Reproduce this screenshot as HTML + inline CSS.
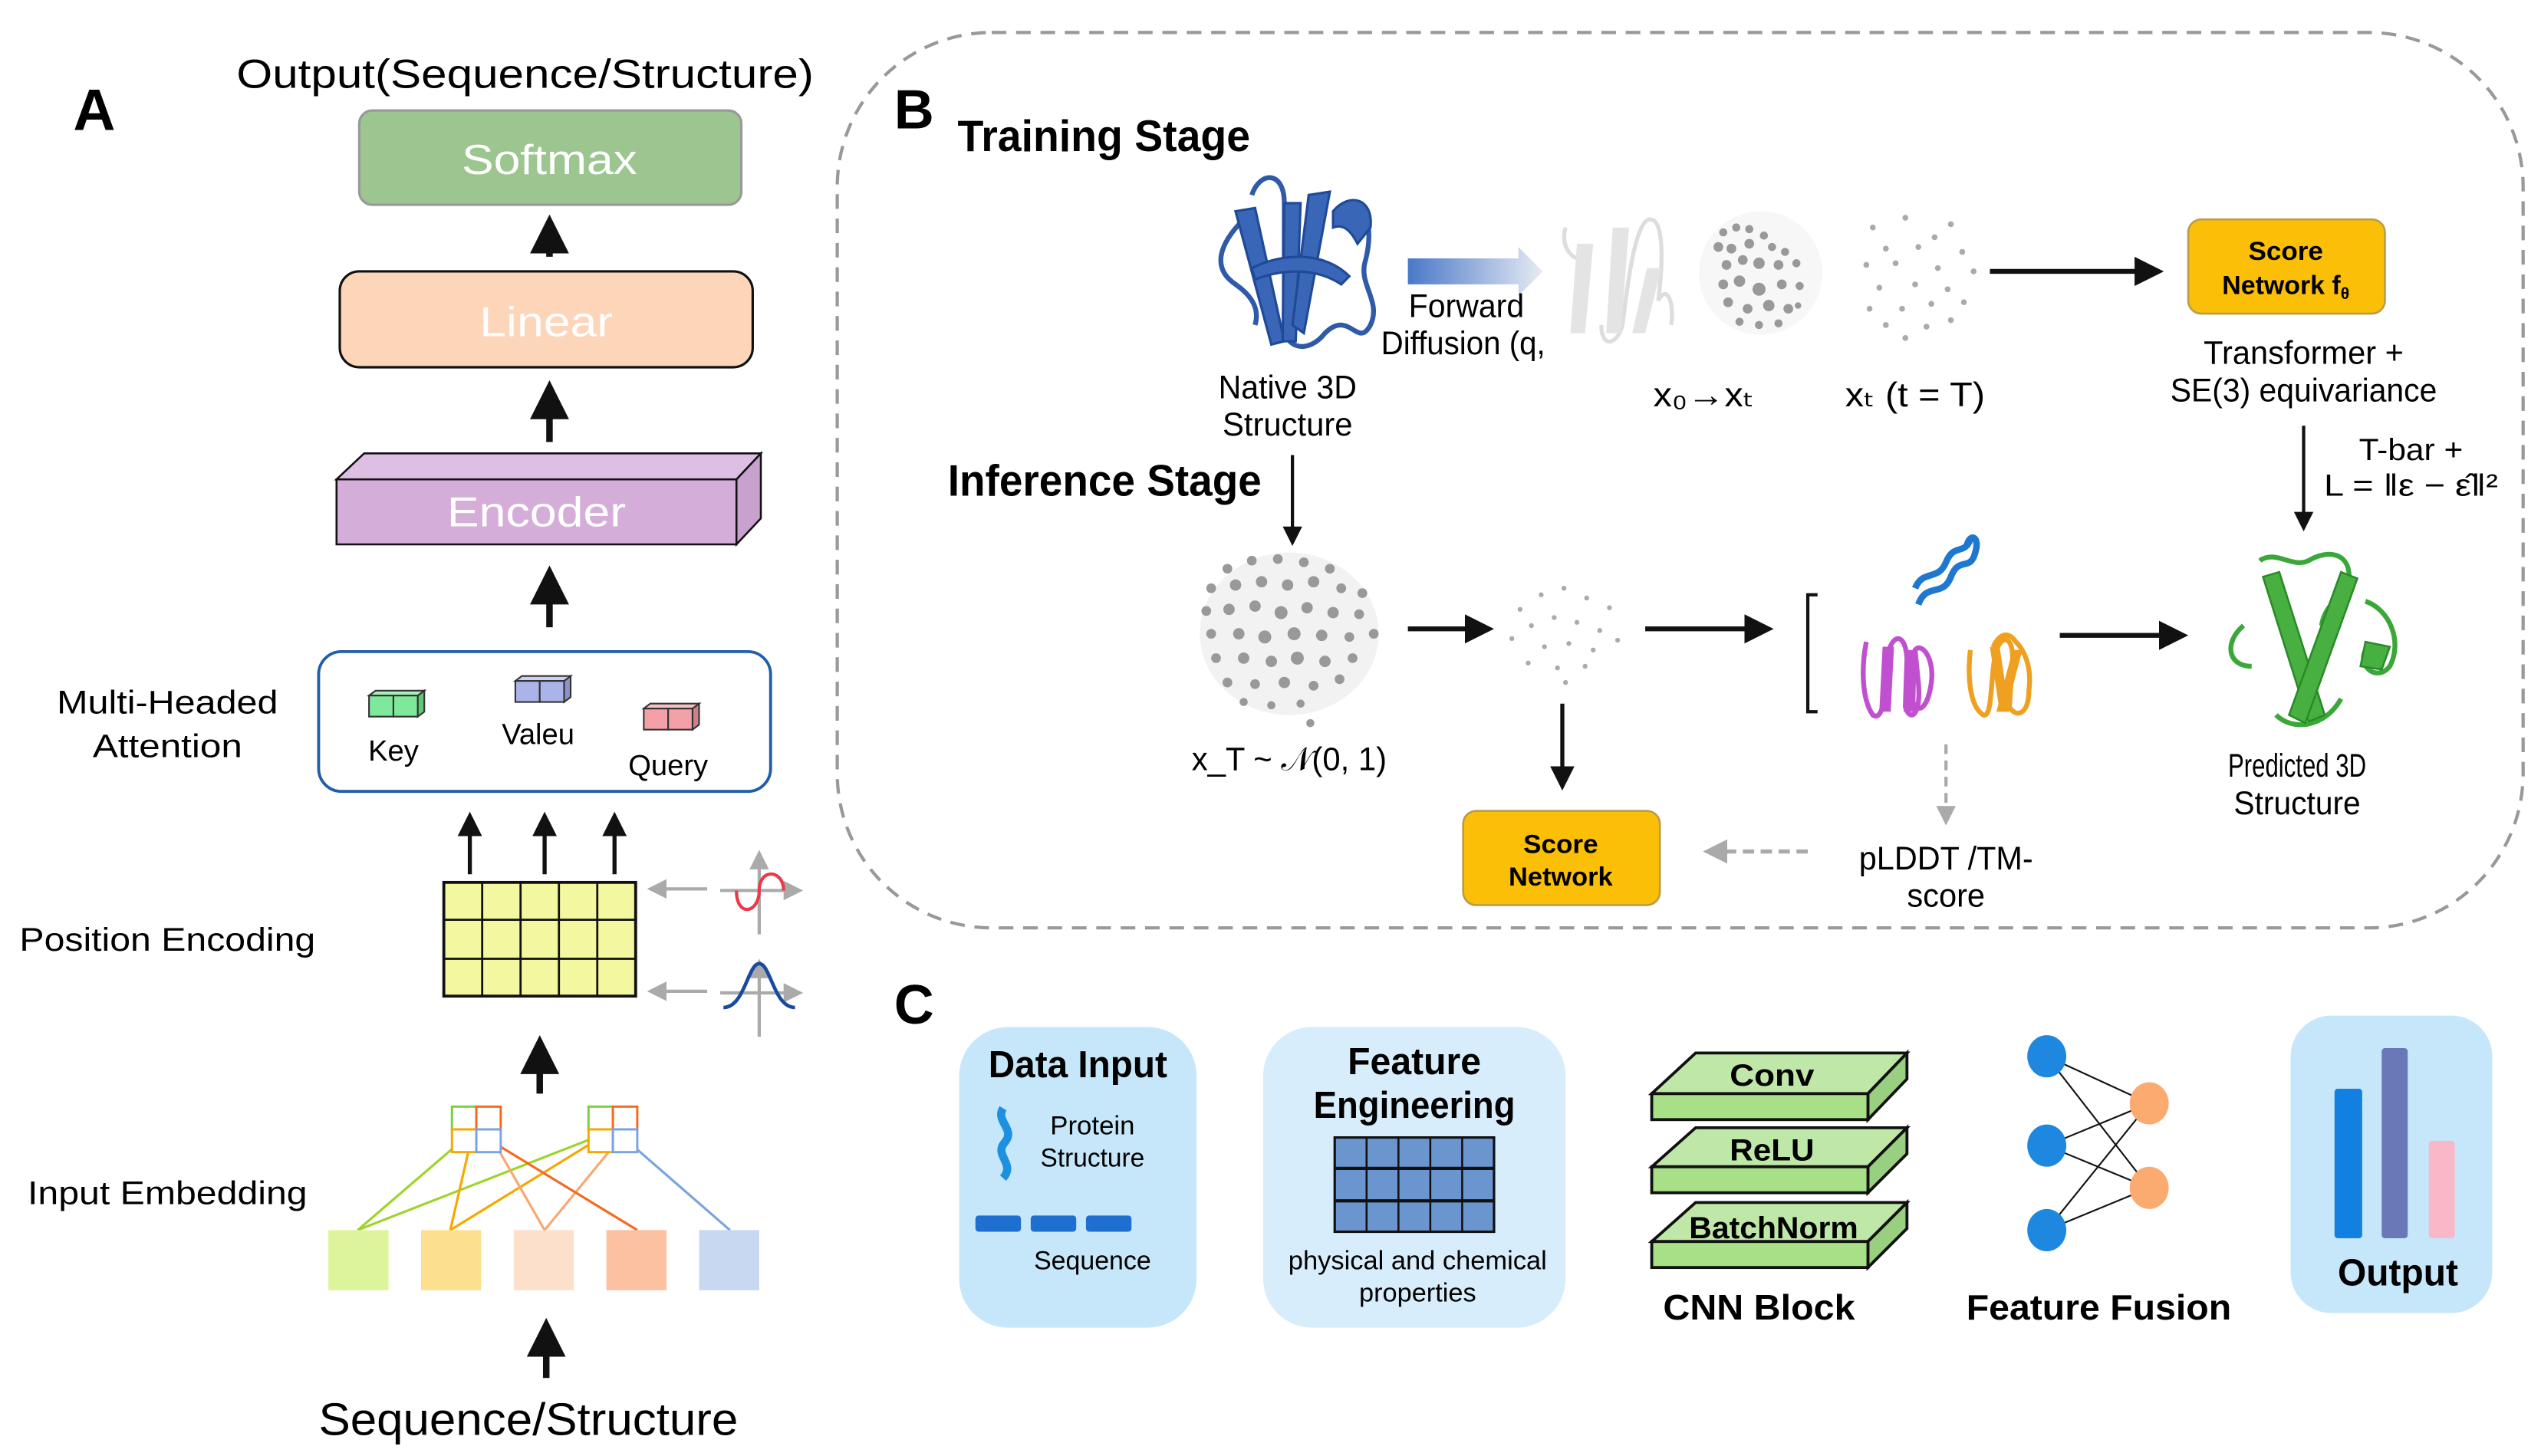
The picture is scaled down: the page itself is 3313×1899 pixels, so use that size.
<!DOCTYPE html>
<html><head><meta charset="utf-8"><style>
html,body{margin:0;padding:0;background:#fff;}
svg{display:block;}
text{font-family:"Liberation Sans",sans-serif;}
</style></head><body>
<svg width="3313" height="1899" viewBox="0 0 1563 896" preserveAspectRatio="none" xmlns="http://www.w3.org/2000/svg">
<defs>
<marker id="ah" markerWidth="6" markerHeight="6" refX="5" refY="3" orient="auto" markerUnits="strokeWidth"><path d="M0,0 L6,3 L0,6 z" fill="#111"/></marker>
<marker id="ag" markerWidth="6" markerHeight="6" refX="5" refY="3" orient="auto" markerUnits="strokeWidth"><path d="M0,0 L6,3 L0,6 z" fill="#aaa"/></marker>
<linearGradient id="fg" x1="0" x2="1"><stop offset="0" stop-color="#4a78c8"/><stop offset="1" stop-color="#e6ebf3"/></linearGradient>
</defs>
<!-- Panel A -->
<text x="45" y="80" font-size="36" font-weight="bold">A</text>
<text x="323" y="54" font-size="25" text-anchor="middle" textLength="355" lengthAdjust="spacingAndGlyphs">Output(Sequence/Structure)</text>
<rect x="221" y="68" width="235" height="58" rx="8" fill="#9dc58f" stroke="#999" stroke-width="1.5"/>
<text x="338" y="107" font-size="26" fill="#fff" text-anchor="middle" textLength="108" lengthAdjust="spacingAndGlyphs">Softmax</text>
<g stroke="#111" stroke-width="4" marker-end="url(#ah)" fill="none">
<line x1="338" y1="158" x2="338" y2="136"/>
<line x1="338" y1="272" x2="338" y2="238"/>
<line x1="338" y1="386" x2="338" y2="352"/>
<line x1="332" y1="673" x2="332" y2="641"/>
<line x1="336" y1="848" x2="336" y2="815"/>
</g>
<g stroke="#111" stroke-width="2.5" marker-end="url(#ah)">
<line x1="289" y1="538" x2="289" y2="502"/>
<line x1="335" y1="538" x2="335" y2="502"/>
<line x1="378" y1="538" x2="378" y2="502"/>
</g>
<rect x="209" y="167" width="254" height="59" rx="12" fill="#fdd5b9" stroke="#111" stroke-width="1.5"/>
<text x="336" y="207" font-size="26" fill="#fff" text-anchor="middle" textLength="82" lengthAdjust="spacingAndGlyphs">Linear</text>
<polygon points="207,295 224,279 468,279 453,295" fill="#dcbfe3" stroke="#111" stroke-width="1.2"/>
<polygon points="453,295 468,279 468,319 453,335" fill="#c8a2cf" stroke="#111" stroke-width="1.2"/>
<rect x="207" y="295" width="246" height="40" fill="#d4aed9" stroke="#111" stroke-width="1.2"/>
<text x="330" y="324" font-size="26" fill="#fff" text-anchor="middle" textLength="110" lengthAdjust="spacingAndGlyphs">Encoder</text>
<text x="103" y="439" font-size="20" text-anchor="middle" textLength="136" lengthAdjust="spacingAndGlyphs">Multi-Headed</text>
<text x="103" y="466" font-size="20" text-anchor="middle" textLength="92" lengthAdjust="spacingAndGlyphs">Attention</text>
<rect x="196" y="401" width="278" height="86" rx="14" fill="#fff" stroke="#1f5faa" stroke-width="1.8"/>
<g stroke="#333" stroke-width="1">
<rect x="227" y="428" width="15" height="13" fill="#7fe89a"/><rect x="242" y="428" width="15" height="13" fill="#7fe89a"/><polygon points="257,428 261,425 261,438 257,441" fill="#5fc67a"/><polygon points="227,428 231,425 261,425 257,428" fill="#a8f0b8"/>
<rect x="317" y="419" width="15" height="13" fill="#aab4e8"/><rect x="332" y="419" width="15" height="13" fill="#aab4e8"/><polygon points="347,419 351,416 351,429 347,432" fill="#8a94c8"/><polygon points="317,419 321,416 351,416 347,419" fill="#c8d0f4"/>
<rect x="396" y="436" width="15" height="13" fill="#f4a0a8"/><rect x="411" y="436" width="15" height="13" fill="#f4a0a8"/><polygon points="426,436 430,433 430,446 426,449" fill="#d08088"/><polygon points="396,436 400,433 430,433 426,436" fill="#f8c0c4"/>
</g>
<text x="242" y="468" font-size="18" text-anchor="middle">Key</text>
<text x="331" y="458" font-size="18" text-anchor="middle">Valeu</text>
<text x="411" y="477" font-size="18" text-anchor="middle">Query</text>
<text x="103" y="585" font-size="20" text-anchor="middle" textLength="182" lengthAdjust="spacingAndGlyphs">Position Encoding</text>
<rect x="273" y="543" width="118" height="70" fill="#f2f7a0" stroke="#111" stroke-width="1.8"/>
<g stroke="#111" stroke-width="1.3">
<line x1="296.6" y1="543" x2="296.6" y2="613"/><line x1="320.2" y1="543" x2="320.2" y2="613"/><line x1="343.8" y1="543" x2="343.8" y2="613"/><line x1="367.4" y1="543" x2="367.4" y2="613"/>
<line x1="273" y1="566" x2="391" y2="566"/><line x1="273" y1="590" x2="391" y2="590"/>
</g>
<g stroke="#aaa" stroke-width="2" marker-end="url(#ag)">
<line x1="435" y1="547" x2="400" y2="547"/><line x1="435" y1="610" x2="400" y2="610"/>
<line x1="467" y1="575" x2="467" y2="525"/><line x1="443" y1="548" x2="492" y2="548"/>
<line x1="467" y1="638" x2="467" y2="592"/><line x1="443" y1="611" x2="492" y2="611"/>
</g>
<path d="M453,548 C453,565 467,562 467,548 C467,534 482,535 482,548" fill="none" stroke="#e83a4a" stroke-width="2"/>
<path d="M445,620 C458,620 460,593 467,593 C474,593 476,620 489,620" fill="none" stroke="#1a4aa0" stroke-width="2.2"/>
<text x="103" y="741" font-size="20" text-anchor="middle" textLength="172" lengthAdjust="spacingAndGlyphs">Input Embedding</text>
<g fill="none" stroke-width="1.5">
<line x1="220" y1="757" x2="291" y2="696" stroke="#9ed42a"/>
<line x1="220" y1="757" x2="376" y2="696" stroke="#9ed42a"/>
<line x1="277" y1="757" x2="291" y2="696" stroke="#f5a800"/>
<line x1="277" y1="757" x2="376" y2="696" stroke="#f5a800"/>
<line x1="335" y1="757" x2="300" y2="696" stroke="#f8a870"/>
<line x1="335" y1="757" x2="385" y2="696" stroke="#f8a870"/>
<line x1="392" y1="757" x2="292" y2="696" stroke="#f56a20"/>
<line x1="449" y1="757" x2="380" y2="697" stroke="#7aa4e0"/>
</g>
<g stroke-width="1.4" fill="#fff">
<rect x="278" y="681" width="15" height="14" stroke="#7ad040"/><rect x="293" y="681" width="15" height="14" stroke="#f56a20"/><rect x="278" y="695" width="15" height="14" stroke="#f5a800"/><rect x="293" y="695" width="15" height="14" stroke="#7aa4e0"/>
<rect x="362" y="681" width="15" height="14" stroke="#7ad040"/><rect x="377" y="681" width="15" height="14" stroke="#f56a20"/><rect x="362" y="695" width="15" height="14" stroke="#f5a800"/><rect x="377" y="695" width="15" height="14" stroke="#7aa4e0"/>
</g>
<rect x="202" y="757" width="37" height="37" fill="#dcf59a"/>
<rect x="259" y="757" width="37" height="37" fill="#fde08f"/>
<rect x="316" y="757" width="37" height="37" fill="#fde0cc"/>
<rect x="373" y="757" width="37" height="37" fill="#fbc1a0"/>
<rect x="430" y="757" width="37" height="37" fill="#c8d8f0"/>
<text x="325" y="883" font-size="28" text-anchor="middle" textLength="258" lengthAdjust="spacingAndGlyphs">Sequence/Structure</text>

<!-- Panel B -->
<rect x="515" y="20" width="1037" height="551" rx="95" fill="none" stroke="#999" stroke-width="2" stroke-dasharray="9,6"/>
<text x="550" y="79" font-size="34" font-weight="bold">B</text>
<text x="589" y="93" font-size="27" font-weight="bold" textLength="180" lengthAdjust="spacingAndGlyphs">Training Stage</text>
<!-- native protein -->
<g fill="none" stroke="#2f5aa8" stroke-width="3">
<path d="M770,120 C775,105 790,105 790,125 L790,200 C790,215 805,218 815,205 C830,190 835,215 843,200 C850,185 835,175 840,160 C845,140 840,125 830,125"/>
<path d="M765,135 C750,150 745,165 760,175 C770,182 775,190 772,200"/>
</g>
<g fill="#3a66b8" stroke="#1f4a98" stroke-width="1.5">
<polygon points="760,130 772,128 790,210 782,212"/>
<polygon points="790,125 800,125 797,210 789,210"/>
<polygon points="805,120 818,118 802,205 795,200"/>
<path d="M820,130 C830,118 845,122 843,140 L835,150 C830,140 825,138 820,140z"/>
<path d="M770,165 C790,155 815,155 830,170 L825,175 C810,165 790,165 772,172z"/>
</g>
<text x="792" y="245" font-size="20" text-anchor="middle" textLength="85" lengthAdjust="spacingAndGlyphs">Native 3D</text>
<text x="792" y="268" font-size="20" text-anchor="middle" textLength="80" lengthAdjust="spacingAndGlyphs">Structure</text>
<polygon points="866,159 934,159 934,152 949,167 934,182 934,175 866,175" fill="url(#fg)"/>
<text x="902" y="195" font-size="20" text-anchor="middle" textLength="71" lengthAdjust="spacingAndGlyphs">Forward</text>
<text x="900" y="218" font-size="20" text-anchor="middle" textLength="101" lengthAdjust="spacingAndGlyphs">Diffusion (q,</text>
<g fill="none" stroke="#ddd" stroke-width="2.5">
<path d="M963,140 C960,150 965,160 975,160 M985,200 C985,215 995,212 998,200 C1000,185 1005,135 1015,135 C1025,135 1022,170 1020,185 C1025,175 1030,185 1028,200"/>
</g>
<g fill="#e4e4e4"><polygon points="970,150 980,150 975,205 966,205"/><polygon points="992,140 1002,140 997,205 988,205"/><polygon points="1013,165 1022,165 1012,205 1004,205"/></g>
<ellipse cx="1083" cy="168" rx="38" ry="38" fill="#f7f7f7"/>
<g fill="#999">
<circle cx="1060" cy="143" r="2.5"/><circle cx="1068" cy="140" r="2.5"/><circle cx="1076" cy="141" r="2.5"/><circle cx="1085" cy="145" r="2.5"/><circle cx="1057" cy="152" r="3"/><circle cx="1065" cy="153" r="3"/><circle cx="1076" cy="150" r="3"/><circle cx="1090" cy="152" r="2.5"/><circle cx="1098" cy="155" r="2.5"/><circle cx="1062" cy="163" r="3"/><circle cx="1072" cy="160" r="3"/><circle cx="1082" cy="162" r="3.5"/><circle cx="1094" cy="163" r="3"/><circle cx="1105" cy="162" r="2.5"/><circle cx="1060" cy="175" r="3"/><circle cx="1070" cy="173" r="3.5"/><circle cx="1082" cy="178" r="4"/><circle cx="1096" cy="175" r="3"/><circle cx="1107" cy="176" r="2.5"/><circle cx="1063" cy="186" r="3"/><circle cx="1075" cy="190" r="3"/><circle cx="1088" cy="188" r="3.5"/><circle cx="1100" cy="190" r="3"/><circle cx="1070" cy="198" r="2.5"/><circle cx="1082" cy="200" r="2.5"/><circle cx="1094" cy="199" r="2.5"/><circle cx="1106" cy="188" r="2"/>
</g>
<g fill="#aaa">
<circle cx="1152" cy="140" r="1.8"/><circle cx="1172" cy="134" r="1.8"/><circle cx="1190" cy="146" r="1.8"/><circle cx="1200" cy="138" r="1.8"/><circle cx="1160" cy="153" r="1.8"/><circle cx="1180" cy="152" r="1.8"/><circle cx="1207" cy="155" r="1.8"/><circle cx="1148" cy="163" r="1.8"/><circle cx="1166" cy="162" r="1.8"/><circle cx="1192" cy="165" r="1.8"/><circle cx="1214" cy="167" r="1.8"/><circle cx="1156" cy="177" r="1.8"/><circle cx="1178" cy="175" r="1.8"/><circle cx="1198" cy="178" r="1.8"/><circle cx="1150" cy="190" r="1.8"/><circle cx="1170" cy="190" r="1.8"/><circle cx="1188" cy="187" r="1.8"/><circle cx="1208" cy="186" r="1.8"/><circle cx="1160" cy="200" r="1.8"/><circle cx="1185" cy="201" r="1.8"/><circle cx="1200" cy="197" r="1.8"/><circle cx="1172" cy="208" r="1.8"/>
</g>
<text x="1048" y="250" font-size="21" text-anchor="middle" textLength="62" lengthAdjust="spacingAndGlyphs">x₀→xₜ</text>
<text x="1178" y="250" font-size="21" text-anchor="middle" textLength="86" lengthAdjust="spacingAndGlyphs">xₜ (t = T)</text>
<line x1="1224" y1="167" x2="1328" y2="167" stroke="#111" stroke-width="3" marker-end="url(#ah)"/>
<rect x="1346" y="135" width="121" height="58" rx="8" fill="#fbbf08" stroke="#b89a4a" stroke-width="1.2"/>
<text x="1406" y="160" font-size="16" font-weight="bold" text-anchor="middle" textLength="46" lengthAdjust="spacingAndGlyphs">Score</text>
<text x="1406" y="181" font-size="16" font-weight="bold" text-anchor="middle">Network f<tspan font-size="10" dy="3">θ</tspan></text>
<text x="1417" y="224" font-size="20" text-anchor="middle" textLength="123" lengthAdjust="spacingAndGlyphs">Transformer +</text>
<text x="1417" y="247" font-size="20" text-anchor="middle" textLength="164" lengthAdjust="spacingAndGlyphs">SE(3) equivariance</text>
<line x1="1417" y1="262" x2="1417" y2="325" stroke="#111" stroke-width="2" marker-end="url(#ah)"/>
<text x="1483" y="283" font-size="19" text-anchor="middle" textLength="64" lengthAdjust="spacingAndGlyphs">T-bar +</text>
<text x="1483" y="305" font-size="19" text-anchor="middle" textLength="107" lengthAdjust="spacingAndGlyphs">L = ‖ε − ε̂‖²</text>
<text x="583" y="305" font-size="27" font-weight="bold" textLength="193" lengthAdjust="spacingAndGlyphs">Inference Stage</text>
<line x1="795" y1="280" x2="795" y2="334" stroke="#111" stroke-width="2" marker-end="url(#ah)"/>
<ellipse cx="793" cy="390" rx="55" ry="50" fill="#f2f2f2"/>
<g fill="#999">
<circle cx="755" cy="350" r="3"/><circle cx="770" cy="345" r="3"/><circle cx="786" cy="344" r="3"/><circle cx="802" cy="346" r="3"/><circle cx="818" cy="350" r="3"/><circle cx="745" cy="362" r="3"/><circle cx="760" cy="360" r="3.5"/><circle cx="776" cy="358" r="3.5"/><circle cx="792" cy="360" r="3.5"/><circle cx="808" cy="358" r="3.5"/><circle cx="825" cy="362" r="3"/><circle cx="838" cy="365" r="3"/><circle cx="742" cy="376" r="3"/><circle cx="756" cy="375" r="3.5"/><circle cx="772" cy="373" r="3.5"/><circle cx="788" cy="377" r="4"/><circle cx="804" cy="374" r="3.5"/><circle cx="820" cy="377" r="3.5"/><circle cx="836" cy="378" r="3"/><circle cx="745" cy="390" r="3"/><circle cx="762" cy="390" r="3.5"/><circle cx="778" cy="392" r="4"/><circle cx="796" cy="390" r="4"/><circle cx="813" cy="391" r="3.5"/><circle cx="830" cy="392" r="3"/><circle cx="845" cy="390" r="3"/><circle cx="748" cy="405" r="3"/><circle cx="765" cy="405" r="3.5"/><circle cx="782" cy="407" r="3.5"/><circle cx="798" cy="405" r="4"/><circle cx="815" cy="407" r="3.5"/><circle cx="832" cy="405" r="3"/><circle cx="755" cy="420" r="3"/><circle cx="772" cy="421" r="3"/><circle cx="790" cy="420" r="3.5"/><circle cx="808" cy="422" r="3"/><circle cx="824" cy="418" r="3"/><circle cx="765" cy="432" r="2.5"/><circle cx="782" cy="434" r="2.5"/><circle cx="800" cy="433" r="2.5"/><circle cx="806" cy="445" r="2.5"/>
</g>
<text x="793" y="474" font-size="20" text-anchor="middle" textLength="120" lengthAdjust="spacingAndGlyphs">x_T ~ 𝒩(0, 1)</text>
<line x1="866" y1="387" x2="916" y2="387" stroke="#111" stroke-width="3" marker-end="url(#ah)"/>
<g fill="#aaa">
<circle cx="935" cy="375" r="1.5"/><circle cx="948" cy="366" r="1.5"/><circle cx="962" cy="362" r="1.5"/><circle cx="976" cy="368" r="1.5"/><circle cx="990" cy="374" r="1.5"/><circle cx="942" cy="385" r="1.5"/><circle cx="956" cy="380" r="1.5"/><circle cx="970" cy="383" r="1.5"/><circle cx="984" cy="388" r="1.5"/><circle cx="930" cy="393" r="1.5"/><circle cx="950" cy="398" r="1.5"/><circle cx="965" cy="396" r="1.5"/><circle cx="980" cy="400" r="1.5"/><circle cx="995" cy="394" r="1.5"/><circle cx="940" cy="408" r="1.5"/><circle cx="958" cy="411" r="1.5"/><circle cx="975" cy="410" r="1.5"/><circle cx="963" cy="420" r="1.5"/>
</g>
<line x1="1012" y1="387" x2="1088" y2="387" stroke="#111" stroke-width="3" marker-end="url(#ah)"/>
<path d="M1118,366 L1112,366 L1112,438 L1118,438" fill="none" stroke="#111" stroke-width="2"/>
<path d="M1180,372 C1185,358 1195,368 1200,355 C1205,342 1212,352 1215,340 C1218,330 1212,328 1210,335 M1178,362 C1183,350 1192,358 1197,346 C1202,334 1208,342 1212,332" fill="none" stroke="#1f78d0" stroke-width="4"/>
<g fill="none" stroke="#c050d0" stroke-width="3">
<path d="M1148,395 C1145,410 1145,430 1152,440 C1158,444 1160,430 1162,400 C1165,390 1172,390 1173,405 L1172,435 C1175,445 1182,440 1180,420 L1178,400 C1182,395 1190,405 1188,420 C1186,435 1180,440 1178,432"/>
</g>
<g fill="#c050d0"><polygon points="1158,398 1165,398 1163,438 1156,438"/><polygon points="1172,400 1179,400 1178,438 1171,438"/></g>
<g fill="none" stroke="#f0a020" stroke-width="3">
<path d="M1212,400 C1210,418 1212,435 1220,440 C1226,442 1224,415 1228,400 C1232,390 1238,392 1238,405 L1236,435 C1240,442 1248,440 1248,425 C1250,410 1245,400 1240,395 C1235,388 1230,390 1226,398"/>
</g>
<g fill="#f0a020"><polygon points="1224,398 1230,398 1236,438 1230,438"/><polygon points="1238,400 1244,400 1234,438 1228,438"/></g>
<line x1="1267" y1="391" x2="1343" y2="391" stroke="#111" stroke-width="3" marker-end="url(#ah)"/>
<g fill="none" stroke="#3aa838" stroke-width="3">
<path d="M1390,345 C1400,338 1410,350 1420,345 C1432,338 1445,340 1445,355 C1445,365 1430,370 1428,385 M1380,385 C1368,395 1370,410 1385,410 M1455,370 C1470,375 1478,395 1470,410 C1462,420 1450,410 1455,400 M1400,440 C1410,450 1430,448 1440,430"/>
</g>
<g fill="#48b040" stroke="#2a8a28" stroke-width="1.2">
<polygon points="1392,355 1402,352 1430,440 1420,444"/>
<polygon points="1440,352 1450,356 1418,445 1408,440"/>
<polygon points="1455,395 1470,398 1465,412 1452,410"/>
</g>
<text x="1413" y="478" font-size="20" text-anchor="middle" textLength="85" lengthAdjust="spacingAndGlyphs">Predicted 3D</text>
<text x="1413" y="501" font-size="20" text-anchor="middle" textLength="78" lengthAdjust="spacingAndGlyphs">Structure</text>
<line x1="961" y1="433" x2="961" y2="484" stroke="#111" stroke-width="2.5" marker-end="url(#ah)"/>
<rect x="900" y="499" width="121" height="58" rx="8" fill="#fbbf08" stroke="#b89a4a" stroke-width="1.2"/>
<text x="960" y="525" font-size="16" font-weight="bold" text-anchor="middle" textLength="46" lengthAdjust="spacingAndGlyphs">Score</text>
<text x="960" y="545" font-size="16" font-weight="bold" text-anchor="middle" textLength="64" lengthAdjust="spacingAndGlyphs">Network</text>
<line x1="1112" y1="524" x2="1050" y2="524" stroke="#aaa" stroke-width="2.5" stroke-dasharray="7,4" marker-end="url(#ag)"/>
<line x1="1197" y1="458" x2="1197" y2="506" stroke="#aaa" stroke-width="2" stroke-dasharray="6,4" marker-end="url(#ag)"/>
<text x="1197" y="535" font-size="20" text-anchor="middle" textLength="107" lengthAdjust="spacingAndGlyphs">pLDDT /TM-</text>
<text x="1197" y="558" font-size="20" text-anchor="middle" textLength="48" lengthAdjust="spacingAndGlyphs">score</text>

<!-- Panel C -->
<text x="550" y="630" font-size="34" font-weight="bold">C</text>
<rect x="590" y="632" width="146" height="185" rx="30" fill="#c6e6fa"/>
<text x="663" y="663" font-size="23" font-weight="bold" text-anchor="middle" textLength="110" lengthAdjust="spacingAndGlyphs">Data Input</text>
<path d="M617,682 C612,690 625,695 618,703 C611,711 625,716 617,725" fill="none" stroke="#1e90e0" stroke-width="5"/>
<text x="672" y="698" font-size="16" text-anchor="middle" textLength="52" lengthAdjust="spacingAndGlyphs">Protein</text>
<text x="672" y="718" font-size="16" text-anchor="middle" textLength="64" lengthAdjust="spacingAndGlyphs">Structure</text>
<rect x="600" y="748" width="28" height="10" rx="2" fill="#1f6fd0"/>
<rect x="634" y="748" width="28" height="10" rx="2" fill="#1f6fd0"/>
<rect x="668" y="748" width="28" height="10" rx="2" fill="#1f6fd0"/>
<text x="672" y="781" font-size="16" text-anchor="middle" textLength="72" lengthAdjust="spacingAndGlyphs">Sequence</text>
<rect x="777" y="632" width="186" height="185" rx="30" fill="#d7edfb"/>
<text x="870" y="661" font-size="23" font-weight="bold" text-anchor="middle" textLength="82" lengthAdjust="spacingAndGlyphs">Feature</text>
<text x="870" y="688" font-size="23" font-weight="bold" text-anchor="middle" textLength="124" lengthAdjust="spacingAndGlyphs">Engineering</text>
<rect x="821" y="700" width="98" height="58" fill="#6b95cf" stroke="#111" stroke-width="1.5"/>
<g stroke="#111" stroke-width="1.2">
<line x1="840.6" y1="700" x2="840.6" y2="758"/><line x1="860.2" y1="700" x2="860.2" y2="758"/><line x1="879.8" y1="700" x2="879.8" y2="758"/><line x1="899.4" y1="700" x2="899.4" y2="758"/>
<line x1="821" y1="719" x2="919" y2="719" stroke-width="2"/><line x1="821" y1="739" x2="919" y2="739" stroke-width="2"/>
</g>
<text x="872" y="781" font-size="16" text-anchor="middle" textLength="159" lengthAdjust="spacingAndGlyphs">physical and chemical</text>
<text x="872" y="801" font-size="16" text-anchor="middle" textLength="72" lengthAdjust="spacingAndGlyphs">properties</text>
<g stroke="#111" stroke-width="1.8">
<polygon points="1016,673 1043,648 1173,648 1149,673" fill="#bfe8a8"/><polygon points="1149,673 1173,648 1173,664 1149,689" fill="#98d080"/><rect x="1016" y="673" width="133" height="16" fill="#a8e088"/>
<polygon points="1016,718 1043,694 1173,694 1149,718" fill="#bfe8a8"/><polygon points="1149,718 1173,694 1173,710 1149,734" fill="#98d080"/><rect x="1016" y="718" width="133" height="16" fill="#a8e088"/>
<polygon points="1016,764 1043,740 1173,740 1149,764" fill="#bfe8a8"/><polygon points="1149,764 1173,740 1173,756 1149,780" fill="#98d080"/><rect x="1016" y="764" width="133" height="16" fill="#a8e088"/>
</g>
<text x="1090" y="668" font-size="19" font-weight="bold" text-anchor="middle" textLength="52" lengthAdjust="spacingAndGlyphs">Conv</text>
<text x="1090" y="714" font-size="19" font-weight="bold" text-anchor="middle" textLength="52" lengthAdjust="spacingAndGlyphs">ReLU</text>
<text x="1091" y="762" font-size="19" font-weight="bold" text-anchor="middle" textLength="104" lengthAdjust="spacingAndGlyphs">BatchNorm</text>
<text x="1082" y="812" font-size="22" font-weight="bold" text-anchor="middle" textLength="118" lengthAdjust="spacingAndGlyphs">CNN Block</text>
<g stroke="#111" stroke-width="1">
<line x1="1259" y1="650" x2="1322" y2="679"/><line x1="1259" y1="650" x2="1322" y2="731"/>
<line x1="1259" y1="705" x2="1322" y2="679"/><line x1="1259" y1="705" x2="1322" y2="731"/>
<line x1="1259" y1="757" x2="1322" y2="679"/><line x1="1259" y1="757" x2="1322" y2="731"/>
</g>
<ellipse cx="1259" cy="650" rx="12" ry="13" fill="#1e88e0"/><ellipse cx="1259" cy="705" rx="12" ry="13" fill="#1e88e0"/><ellipse cx="1259" cy="757" rx="12" ry="13" fill="#1e88e0"/>
<ellipse cx="1322" cy="679" rx="12" ry="13" fill="#fbaa70"/><ellipse cx="1322" cy="731" rx="12" ry="13" fill="#fbaa70"/>
<text x="1291" y="812" font-size="22" font-weight="bold" text-anchor="middle" textLength="163" lengthAdjust="spacingAndGlyphs">Feature Fusion</text>
<rect x="1409" y="625" width="124" height="183" rx="25" fill="#c6e6fa"/>
<rect x="1436" y="670" width="17" height="92" rx="2" fill="#1180e0"/>
<rect x="1465" y="645" width="16" height="117" rx="2" fill="#6b78b8"/>
<rect x="1494" y="702" width="16" height="60" rx="2" fill="#f8b8c8"/>
<text x="1475" y="791" font-size="23" font-weight="bold" text-anchor="middle" textLength="74" lengthAdjust="spacingAndGlyphs">Output</text>
</svg>
</body></html>
